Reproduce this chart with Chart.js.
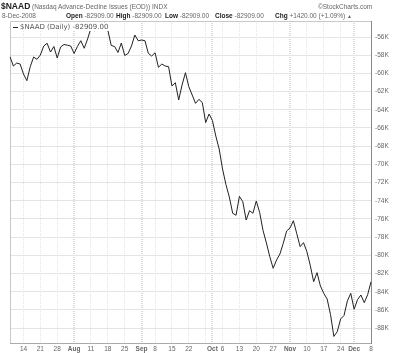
<!DOCTYPE html>
<html>
<head>
<meta charset="utf-8">
<script src="https://cdn.jsdelivr.net/npm/chart.js@4.4.1/dist/chart.umd.min.js"></script>
<style>
  html, body { margin: 0; padding: 0; background: #fff; }
  #wrap { position: relative; width: 400px; height: 353px; overflow: hidden; font-family: "Liberation Sans", Arial, sans-serif; }
  #myChart { position: absolute; left: 0; top: 0; }
  .t { position: absolute; white-space: nowrap; font-size: 6.5px; color: #666; line-height: 8px; }
  .b { font-weight: bold; color: #222; }
  #sym { left: 1px; top: 1px; font-size: 8.5px; line-height: 10px; font-weight: bold; color: #222; }
  #legend { position: absolute; left: 11px; top: 23px; background: #fff; padding: 0 2px; font-family: "DejaVu Sans", sans-serif; font-size: 7px; line-height: 8px; color: #555; white-space: nowrap; }
  #legend i { display: inline-block; width: 5px; height: 1px; background: #222; vertical-align: middle; margin-right: 2px; }
</style>
</head>
<body>
<div id="wrap">
  <canvas id="myChart" width="400" height="353"></canvas>
  <div class="t" id="sym">$NAAD</div>
  <div class="t" style="left:32px;top:3px;">(Nasdaq Advance-Decline Issues (EOD)) INDX</div>
  <div class="t" style="left:318px;top:3px;">©StockCharts.com</div>
  <div class="t" style="left:2px;top:12px;">8-Dec-2008</div>
  <div class="t" style="left:66px;top:12px;"><span class="b">Open</span> -82909.00</div>
  <div class="t" style="left:116px;top:12px;"><span class="b">High</span> -82909.00</div>
  <div class="t" style="left:165px;top:12px;"><span class="b">Low</span> -82909.00</div>
  <div class="t" style="left:215px;top:12px;"><span class="b">Close</span> -82909.00</div>
  <div class="t" style="left:275px;top:12px;"><span class="b">Chg</span> +1420.00 (+1.09%) <span style="font-size:5px">▲</span></div>
  <div id="legend"><i></i>$NAAD (Daily) -82909.00</div>
</div>
<script>
// trading days, 8 Jul 2008 -> 8 Dec 2008
const julDays = [8, 9, 10, 11, 14, 15, 16, 17, 18, 21, 22, 23, 24, 25, 28, 29, 30, 31];
const augDays = [1, 4, 5, 6, 7, 8, 11, 12, 13, 14, 15, 18, 19, 20, 21, 22, 25, 26, 27, 28, 29];
const sepDays = [2, 3, 4, 5, 8, 9, 10, 11, 12, 15, 16, 17, 18, 19, 22, 23, 24, 25, 26, 29, 30];
const octDays = [1, 2, 3, 6, 7, 8, 9, 10, 13, 14, 15, 16, 17, 20, 21, 22, 23, 24, 27, 28, 29, 30, 31];
const novDays = [3, 4, 5, 6, 7, 10, 11, 12, 13, 14, 17, 18, 19, 20, 21, 24, 25, 26, 28];
const decDays = [1, 2, 3, 4, 5, 8];

// $NAAD daily close
const naad = [
  -58170, -59190, -58860, -58970, -60070, -60800, -59260, -58200, -58450, -57980,
  -56990, -56690, -57650, -57040, -58310, -57100, -56820, -56900, -56990, -57810,
  -57020, -56410, -57240, -56220, -55010, -55310, -55150, -54680, -54460, -55230,
  -56930, -57040, -57700, -56660, -58030, -57810, -56990, -55780, -56410, -56330,
  -56410, -57790, -58090, -57730, -59330, -58970, -59190, -59260, -61380, -61020,
  -62920, -61270, -59920, -61460, -62370, -63290, -62850, -63200, -65400, -64460,
  -65180, -66880, -68310, -70510, -72210, -73580, -75370, -75590, -73510, -74100,
  -76110, -75090, -75370, -74020, -75290, -77260, -78640, -80140, -81420, -80510,
  -79850, -78670, -77320, -76990, -76190, -77620, -79040, -78600, -79590, -81110,
  -82890, -81900, -83360, -84170, -84790, -86500, -88910, -88390, -86990, -86610,
  -85010, -84170, -85920, -84870, -84350, -85200, -84329, -82909
];

// x grid lines and their labels
const gridDates = ['Jul 14', 'Jul 21', 'Jul 28', 'Aug 4', 'Aug 11', 'Aug 18', 'Aug 25', 'Sep 2', 'Sep 8', 'Sep 15', 'Sep 22', 'Sep 29',
  'Oct 1', 'Oct 6', 'Oct 13', 'Oct 20', 'Oct 27', 'Nov 3', 'Nov 10', 'Nov 17', 'Nov 24', 'Dec 1', 'Dec 8'];
const gridText = ['14', '21', '28', 'Aug', '11', '18', '25', 'Sep', '8', '15', '22', '',
  'Oct', '6', '13', '20', '27', 'Nov', '10', '17', '24', 'Dec', '8'];
const monthText = ['Aug', 'Sep', 'Oct', 'Nov', 'Dec'];

const yTicks = [-88000, -86000, -84000, -82000, -80000, -78000, -76000, -74000, -72000,
  -70000, -68000, -66000, -64000, -62000, -60000, -58000, -56000];

const days = [].concat(
  julDays.map(d => 'Jul ' + d), augDays.map(d => 'Aug ' + d), sepDays.map(d => 'Sep ' + d),
  octDays.map(d => 'Oct ' + d), novDays.map(d => 'Nov ' + d), decDays.map(d => 'Dec ' + d)
);

const isMonth = ctx => monthText.includes(ctx.tick && ctx.tick.label);

// light frame round the plot
const frame = {
  id: 'frame',
  beforeDatasetsDraw(chart) {
    const { ctx, chartArea: a } = chart;
    ctx.save();
    ctx.strokeStyle = '#c8c8c8';
    ctx.lineWidth = 1;
    ctx.beginPath();
    ctx.moveTo(a.left + 0.5, a.bottom);
    ctx.lineTo(a.left + 0.5, a.top + 0.5);
    ctx.lineTo(a.right, a.top + 0.5);
    ctx.stroke();
    ctx.restore();
  }
};

const canvas = document.getElementById('myChart');
new Chart(canvas, {
  type: 'line',
  data: {
    labels: days,
    datasets: [{
      label: '$NAAD (Daily)',
      data: naad,
      borderColor: '#222',
      borderWidth: 1,
      pointRadius: 0,
      tension: 0
    }]
  },
  options: {
    responsive: false,
    animation: false,
    devicePixelRatio: 1,
    layout: { padding: { left: 10, top: 21, right: 0, bottom: 0 } },
    plugins: { legend: { display: false }, tooltip: { enabled: false } },
    scales: {
      x: {
        offset: false,
        afterFit: s => { s.height = 10; },
        border: { display: true, color: '#aaa', dash: [1, 1] },
        grid: {
          drawTicks: false,
          color: ctx => isMonth(ctx) ? '#dadada' : '#e4e4e4',
          lineWidth: ctx => isMonth(ctx) ? 2 : 1
        },
        ticks: {
          autoSkip: false,
          maxRotation: 0,
          padding: 2,
          color: '#666',
          font: ctx => ({
            family: '"Liberation Sans", Arial, sans-serif',
            size: 6.5,
            weight: monthText.includes(ctx.tick && ctx.tick.label) ? 'bold' : 'normal'
          }),
          callback: (val, idx) => {
            const k = gridDates.indexOf(days[idx]);
            return k < 0 ? null : gridText[k];
          }
        }
      },
      y: {
        position: 'right',
        min: -89630,
        max: -54240,
        afterBuildTicks: axis => { axis.ticks = yTicks.map(v => ({ value: v })); },
        afterFit: s => { s.width = 29; },
        border: { display: true, color: '#888', width: 1 },
        grid: { drawTicks: false, color: '#e4e4e4', lineWidth: 1 },
        ticks: {
          padding: 4,
          color: '#666',
          font: { family: '"Liberation Sans", Arial, sans-serif', size: 6.5 },
          callback: v => (v / 1000) + 'K'
        }
      }
    }
  },
  plugins: [frame]
});
</script>
</body>
</html>
